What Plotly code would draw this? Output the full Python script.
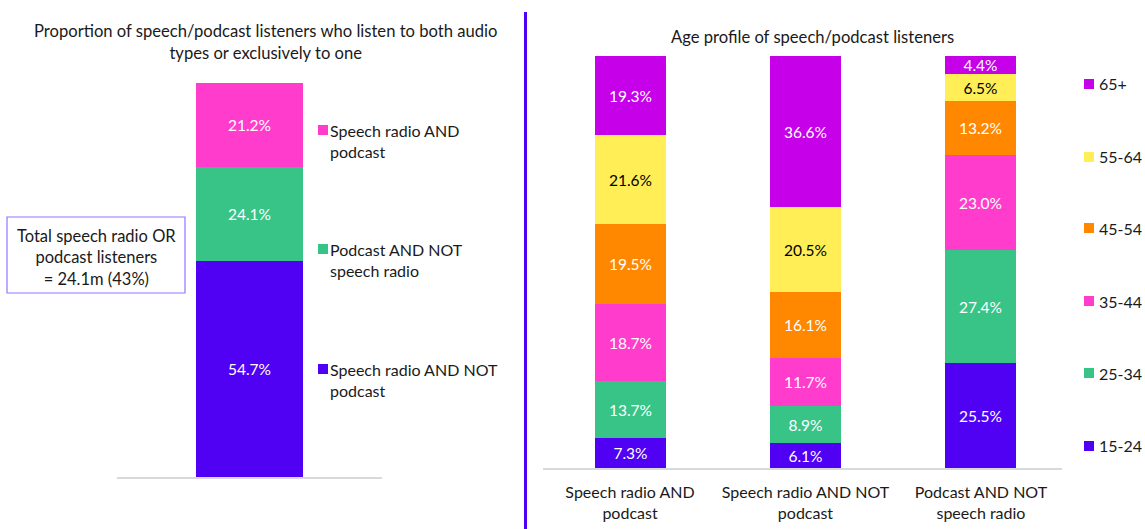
import plotly.graph_objects as go

W, H = 1145, 529

# ---- Left chart data ----
left_series = ["Speech radio AND NOT podcast", "Podcast AND NOT speech radio", "Speech radio AND podcast"]
left_labels = ["Speech radio AND NOT<br>podcast", "Podcast AND NOT<br>speech radio", "Speech radio AND<br>podcast"]
left_values = [54.7, 24.1, 21.2]
left_colors = ["#5000F2", "#38C486", "#FF3CCB"]

# ---- Right chart data ----
categories = ["Speech radio AND<br>podcast", "Speech radio AND NOT<br>podcast", "Podcast AND NOT<br>speech radio"]
age_groups = ["15-24", "25-34", "35-44", "45-54", "55-64", "65+"]
age_values = {
    "15-24": [7.3, 6.1, 25.5],
    "25-34": [13.7, 8.9, 27.4],
    "35-44": [18.7, 11.7, 23.0],
    "45-54": [19.5, 16.1, 13.2],
    "55-64": [21.6, 20.5, 6.5],
    "65+":   [19.3, 36.6, 4.4],
}
age_colors = {"15-24": "#5000F2", "25-34": "#38C486", "35-44": "#FF3CCB",
              "45-54": "#FF8800", "55-64": "#FFEE55", "65+": "#C600E8"}
age_text_colors = {"15-24": "white", "25-34": "white", "35-44": "white",
                   "45-54": "white", "55-64": "black", "65+": "white"}

FONT = "Lato"

def px(x):
    return x / W

def py(y):
    return 1 - y / H

fig = go.Figure()

for name, v, c in zip(left_series, left_values, left_colors):
    fig.add_trace(go.Bar(
        x=[0], y=[v], name=name, marker=dict(color=c, line=dict(width=0)),
        width=0.404, text=[f"{v:.1f}%"], textposition="inside",
        insidetextanchor="middle", textangle=0,
        textfont=dict(color="white", size=15.5, family=FONT),
        xaxis="x", yaxis="y", showlegend=False, hoverinfo="name+y"))

for g in age_groups:
    vals = age_values[g]
    fig.add_trace(go.Bar(
        x=categories, y=vals, name=g, marker=dict(color=age_colors[g], line=dict(width=0)),
        width=0.405, text=[f"{v:.1f}%" for v in vals], textposition="inside",
        insidetextanchor="middle", textangle=0,
        textfont=dict(color=age_text_colors[g], size=15.5, family=FONT),
        xaxis="x2", yaxis="y2", showlegend=False, hoverinfo="name+y"))

annotations = []
shapes = []

# Titles
annotations.append(dict(x=px(265), y=py(42), xref="paper", yref="paper", xanchor="center", yanchor="middle",
                        text="Proportion of speech/podcast listeners who listen to both audio<br>types or exclusively to one",
                        showarrow=False, font=dict(size=16.6, color="#1a1a1a", family=FONT)))
annotations.append(dict(x=px(812), y=py(37), xref="paper", yref="paper", xanchor="center", yanchor="middle",
                        text="Age profile of speech/podcast listeners",
                        showarrow=False, font=dict(size=16.6, color="#1a1a1a", family=FONT)))

# Left legend (custom)
left_leg_y = [380, 260, 141]
for lab, c, yy in zip(left_labels, left_colors, left_leg_y):
    annotations.append(dict(x=px(328), y=py(yy), xref="paper", yref="paper", xanchor="left", yanchor="middle",
                            text=lab, align="left", showarrow=False,
                            font=dict(size=16, color="#1a1a1a", family=FONT)))
    shapes.append(dict(type="rect", xref="paper", yref="paper", x0=px(318), x1=px(328),
                       y0=py(yy - 11 + 5), y1=py(yy - 11 - 5), fillcolor=c, line=dict(width=0)))

# Right legend (custom)
right_leg_y = [446, 373, 301, 228, 157, 84]
for g, yy in zip(age_groups, right_leg_y):
    annotations.append(dict(x=px(1097), y=py(yy), xref="paper", yref="paper", xanchor="left", yanchor="middle",
                            text=g, showarrow=False, font=dict(size=16, color="#1a1a1a", family=FONT)))
    shapes.append(dict(type="rect", xref="paper", yref="paper", x0=px(1084), x1=px(1094),
                       y0=py(yy + 5), y1=py(yy - 5), fillcolor=age_colors[g], line=dict(width=0)))

# Total box
annotations.append(dict(x=px(96), y=py(257), xref="paper", yref="paper", xanchor="center", yanchor="middle",
                        text="Total speech radio OR<br>podcast listeners<br>= 24.1m (43%)",
                        showarrow=False, font=dict(size=16.5, color="#1a1a1a", family=FONT)))
shapes.append(dict(type="rect", xref="paper", yref="paper", x0=px(7), x1=px(185), y0=py(293), y1=py(217),
                   line=dict(color="#9473FF", width=1.2), fillcolor="rgba(0,0,0,0)"))

# Divider
shapes.append(dict(type="line", xref="paper", yref="paper", x0=px(525.5), x1=px(525.5), y0=py(12), y1=0,
                   line=dict(color="#5000F2", width=3)))

fig.update_layout(
    width=W, height=H, margin=dict(l=0, r=0, t=0, b=0),
    paper_bgcolor="white", plot_bgcolor="white",
    barmode="stack", bargap=0,
    font=dict(family=FONT, size=16, color="#1a1a1a"),
    xaxis=dict(domain=[px(117), px(382)], range=[-0.5, 0.5], showticklabels=False, showgrid=False,
               zeroline=False, showline=True, linecolor="#D9D9D9", linewidth=1.5, fixedrange=True),
    yaxis=dict(domain=[py(477), py(83)], range=[0, 100], visible=False, fixedrange=True),
    xaxis2=dict(domain=[px(543), px(1062)], range=[-0.496, 2.462], showgrid=False, zeroline=False,
                showline=True, linecolor="#D9D9D9", linewidth=1.5, ticks="", anchor="y2",
                ticklabelstandoff=9,
                tickfont=dict(size=16, color="#1a1a1a", family=FONT), fixedrange=True),
    yaxis2=dict(domain=[py(468), py(56)], range=[0, 100], visible=False, anchor="x2", fixedrange=True),
    uniformtext=dict(minsize=15, mode="show"),
    annotations=annotations, shapes=shapes,
)

fig.write_html("out.html", config={"displayModeBar": False},
               post_script="document.body.style.margin='0';document.body.style.overflow='hidden';")
